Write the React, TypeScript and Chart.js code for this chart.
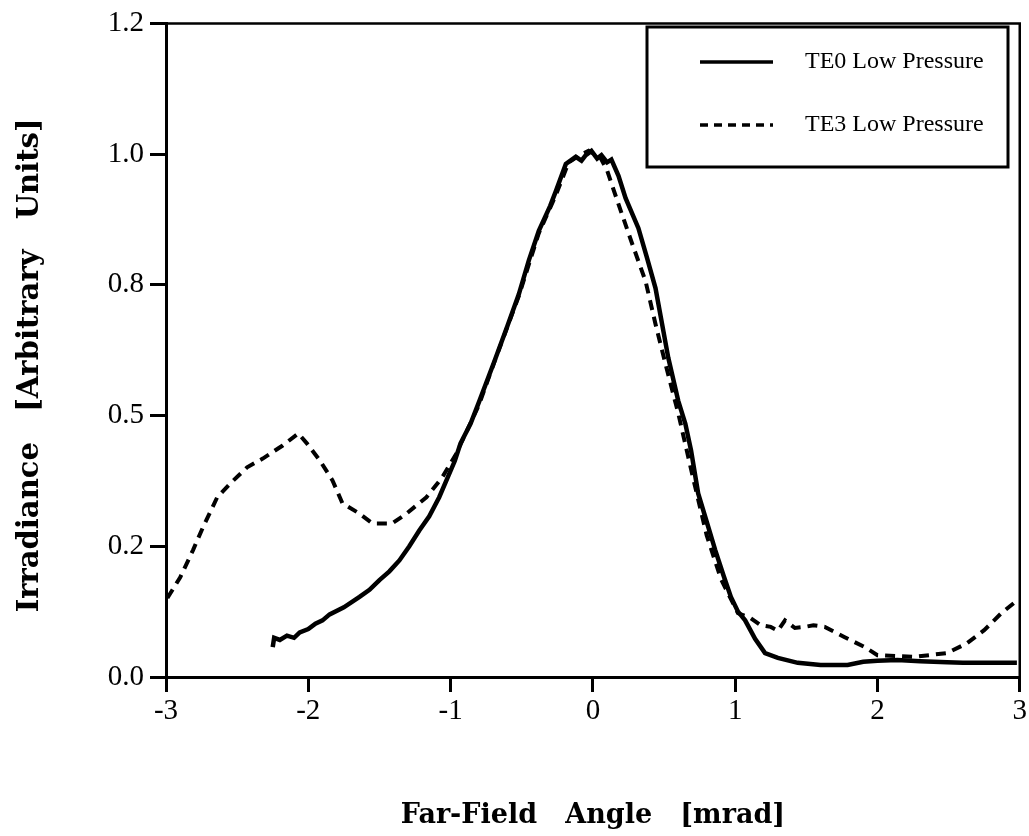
import React, { useEffect, useRef } from "react";
import { Chart, registerables } from "chart.js";

Chart.register(...registerables);

const te0Label = "TE0 Low Pressure";
const te3Label = "TE3 Low Pressure";

const te0X = [-2.25, -2.24, -2.2, -2.15, -2.1, -2.06, -2.0, -1.95, -1.9, -1.85, -1.75, -1.64, -1.57, -1.5, -1.43, -1.36, -1.29, -1.22, -1.15, -1.08, -0.97, -0.93, -0.86, -0.8, -0.69, -0.6, -0.52, -0.45, -0.38, -0.3, -0.26, -0.19, -0.12, -0.08, -0.05, -0.01, 0.03, 0.06, 0.1, 0.13, 0.18, 0.23, 0.32, 0.38, 0.44, 0.53, 0.6, 0.65, 0.69, 0.74, 0.8, 0.86, 0.92, 0.97, 1.02, 1.07, 1.14, 1.21, 1.3, 1.44, 1.6, 1.79, 1.9, 2.0, 2.14, 2.3, 2.49, 2.6, 2.98];
const te0Y = [0.055, 0.072, 0.068, 0.076, 0.072, 0.082, 0.088, 0.098, 0.104, 0.115, 0.128, 0.147, 0.16, 0.178, 0.194, 0.214, 0.24, 0.269, 0.295, 0.33, 0.397, 0.429, 0.465, 0.505, 0.581, 0.645, 0.703, 0.765, 0.819, 0.865, 0.892, 0.942, 0.955, 0.948, 0.958, 0.966, 0.952, 0.958, 0.945, 0.95, 0.92, 0.879, 0.824, 0.77, 0.714, 0.586, 0.507, 0.465, 0.416, 0.337, 0.285, 0.233, 0.185, 0.147, 0.12, 0.104, 0.07, 0.044, 0.035, 0.026, 0.022, 0.022, 0.028, 0.03, 0.031, 0.029, 0.027, 0.026, 0.026];

const te3X = [-2.99, -2.9, -2.81, -2.74, -2.64, -2.55, -2.43, -2.32, -2.18, -2.07, -2.01, -1.92, -1.83, -1.76, -1.64, -1.55, -1.41, -1.31, -1.17, -1.06, -0.96, -0.8, -0.69, -0.52, -0.38, -0.26, -0.17, -0.08, -0.03, 0.05, 0.1, 0.18, 0.27, 0.37, 0.44, 0.51, 0.6, 0.7, 0.8, 0.9, 1.02, 1.11, 1.18, 1.25, 1.3, 1.35, 1.42, 1.49, 1.55, 1.63, 1.77, 1.91, 2.0, 2.26, 2.49, 2.63, 2.75, 2.87, 2.96, 3.0];
const te3Y = [0.145, 0.183, 0.233, 0.275, 0.33, 0.355, 0.385, 0.401, 0.425, 0.447, 0.429, 0.398, 0.361, 0.319, 0.3, 0.282, 0.282, 0.3, 0.33, 0.366, 0.41, 0.5, 0.58, 0.7, 0.815, 0.885, 0.945, 0.96, 0.966, 0.955, 0.93, 0.868, 0.8, 0.727, 0.648, 0.575, 0.484, 0.37, 0.26, 0.18, 0.117, 0.108, 0.095, 0.092, 0.085, 0.104, 0.09, 0.092, 0.095, 0.092, 0.073, 0.055, 0.04, 0.037, 0.044, 0.062, 0.086, 0.117, 0.136, 0.14];

const yTickLabels = ["0.0", "0.2", "0.5", "0.8", "1.0", "1.2"];
const xTickLabels = ["-3", "-2", "-1", "0", "1", "2", "3"];

const xTitle = "Far-Field   Angle   [mrad]";
const yTitle = "Irradiance   [Arbitrary   Units]   ";

const frameAndLegend = {
  id: "frameAndLegend",
  afterDraw(chart: any) {
    const { ctx, chartArea } = chart;
    ctx.save();
    ctx.strokeStyle = "#000";
    ctx.lineWidth = 2.5;
    ctx.beginPath();
    ctx.moveTo(chartArea.left, chartArea.top);
    ctx.lineTo(chartArea.right, chartArea.top);
    ctx.lineTo(chartArea.right, chartArea.bottom);
    ctx.stroke();

    // legend box
    const bx = 647, by = 27, bw = 361, bh = 140;
    ctx.lineWidth = 3;
    ctx.strokeRect(bx, by, bw, bh);
    const rows = [62, 125];
    chart.data.datasets.forEach((ds: any, i: number) => {
      const y = rows[i];
      ctx.beginPath();
      ctx.lineWidth = 3.5;
      ctx.setLineDash(ds.borderDash ? [8, 6] : []);
      ctx.moveTo(700, y);
      ctx.lineTo(773, y);
      ctx.stroke();
      ctx.setLineDash([]);
      ctx.fillStyle = "#000";
      ctx.font = "24px 'Liberation Serif'";
      ctx.textBaseline = "middle";
      ctx.textAlign = "left";
      ctx.fillText(ds.label, 805, y);
    });
    ctx.restore();
  },
};

export default function App() {
  const ref = useRef<HTMLCanvasElement | null>(null);
  useEffect(() => {
    if (!ref.current) return;
    const chart = new Chart(ref.current, {
      type: "line",
      data: {
        datasets: [
          {
            label: te0Label,
            data: te0X.map((x, i) => ({ x, y: te0Y[i] })),
            borderColor: "#000",
            borderWidth: 4.5,
            pointRadius: 0,
            tension: 0,
            fill: false,
          },
          {
            label: te3Label,
            data: te3X.map((x, i) => ({ x, y: te3Y[i] })),
            borderColor: "#000",
            borderWidth: 4,
            borderDash: [10, 7],
            pointRadius: 0,
            tension: 0,
            fill: false,
          },
        ],
      },
      options: {
        responsive: false,
        animation: false,
        layout: { padding: { top: 23, right: 7, left: 0, bottom: 0 } },
        plugins: {
          legend: { display: false },
          tooltip: { enabled: false },
        },
        scales: {
          x: {
            type: "linear",
            min: -3,
            max: 3,
            afterFit: (s: any) => {
              s.height = 159;
            },
            ticks: {
              stepSize: 1,
              color: "#000",
              padding: 2,
              font: { family: "'Liberation Serif'", size: 29 },
              callback: (_v: any, i: number) => xTickLabels[i],
            },
            grid: { display: true, drawOnChartArea: false, drawTicks: true, tickLength: 15, color: "#000", lineWidth: 3 },
            border: { display: true, color: "#000", width: 3 },
            title: {
              display: true,
              text: xTitle,
              color: "#000",
              font: { family: "'DejaVu Serif'", size: 27, weight: "bold" },
              padding: { top: 0, bottom: 4 },
            },
          },
          y: {
            type: "linear",
            min: 0,
            max: 1.2,
            afterFit: (s: any) => {
              s.width = 166;
            },
            ticks: {
              stepSize: 0.24,
              color: "#000",
              padding: 6,
              font: { family: "'Liberation Serif'", size: 29 },
              callback: (_v: any, i: number) => yTickLabels[i],
            },
            grid: { display: true, drawOnChartArea: false, drawTicks: true, tickLength: 16, color: "#000", lineWidth: 3 },
            border: { display: true, color: "#000", width: 3 },
            title: {
              display: true,
              text: yTitle,
              color: "#000",
              font: { family: "'DejaVu Serif'", size: 29, weight: "bold" },
              padding: { top: 13, bottom: 0 },
            },
          },
        },
      },
      plugins: [frameAndLegend],
    });
    return () => chart.destroy();
  }, []);
  return (
    <div style={{ position: "absolute", left: 0, top: 0, width: 1029, height: 836, background: "#fff" }}>
      <canvas ref={ref} width={1029} height={836} style={{ display: "block" }} />
    </div>
  );
}
